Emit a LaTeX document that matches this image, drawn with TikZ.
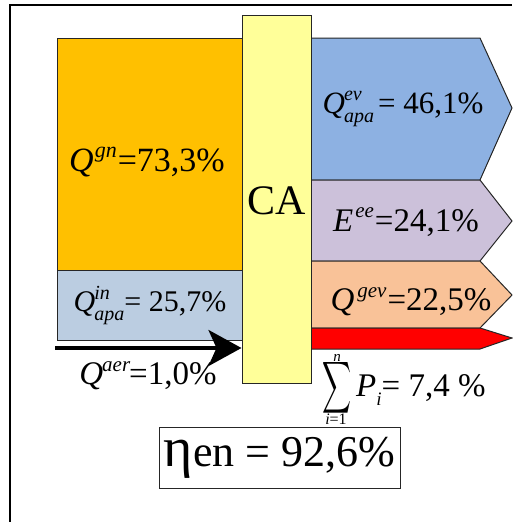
\documentclass[tikz,border=0pt]{standalone}
\usepackage{fontspec}
\IfFontExistsTF{LiberationSerif-Regular.ttf}
  {\newfontfamily\tnr{LiberationSerif}[Extension=.ttf,UprightFont=*-Regular,ItalicFont=*-Italic,BoldFont=*-Bold,BoldItalicFont=*-BoldItalic]}
  {\newcommand{\tnr}{\rmfamily}}
\usetikzlibrary{arrows.meta}
\definecolor{cOrange}{HTML}{FFC000}
\definecolor{cGrayBlue}{HTML}{BBCDE1}
\definecolor{cBlue}{HTML}{8DB1E2}
\definecolor{cPurple}{HTML}{CCC1DA}
\definecolor{cSalmon}{HTML}{F9C298}
\definecolor{cYellow}{HTML}{FFFF99}
\tikzset{
  blk/.style={draw=black!85, line width=1pt},
  lbl/.style={inner sep=0pt, anchor=center, font=\tnr},
}
\newcommand{\fs}[1]{\fontsize{#1}{#1}\selectfont}
% #1 script size, #2 superscript, #3 subscript
\newcommand{\SupSubX}[3]{{\sbox0{\fontsize{#1}{#1}\selectfont\itshape #2}%
  \sbox2{\fontsize{#1}{#1}\selectfont\itshape #3}%
  \ifdim\wd0>\wd2 \dimen0=\wd0 \else \dimen0=\wd2 \fi
  \makebox[\dimen0][l]{\rlap{\raisebox{.40em}{\usebox0}}\raisebox{-.30em}{\usebox2}}}}
\newcommand{\SupX}[2]{\raisebox{.40em}{\fontsize{#1}{#1}\selectfont\itshape #2}}
\begin{document}
\begin{tikzpicture}[x=1pt,y=-1pt]
\useasboundingbox (0,0) rectangle (512,522);
\fill[white] (0,0) rectangle (512,522);
% outer frame
\draw[line width=2pt] (10,522) -- (10,5) -- (512,5);
% left boxes
\draw[blk, fill=cOrange] (57,38) rectangle (242,270);
\draw[blk, fill=cGrayBlue] (57,270) rectangle (242,340);
% right arrows
\draw[blk, fill=cBlue] (311,38) -- (480,38) -- (512,108) -- (480,180) -- (311,180) -- cycle;
\draw[blk, fill=cPurple] (311,180) -- (480,180) -- (512,221) -- (480,261) -- (311,261) -- cycle;
\draw[blk, fill=cSalmon] (311,261) -- (480,261) -- (512,295) -- (480,328) -- (311,328) -- cycle;
\draw[blk, fill=red] (311,328) -- (480,328) -- (512,338) -- (480,349) -- (311,349) -- cycle;
% CA column
\node[blk, fill=cYellow, minimum width=69pt, minimum height=368pt, inner sep=0pt] (CA) at (276.5,199) {};
\node[lbl] (calbl) at (276.5,201) {\fs{42}CA};
% air arrow
\coordinate (airstart) at (55,348);
\draw[line width=3.5pt, -{Stealth[length=33pt, width=36pt, inset=8pt]}] (airstart) -- (CA.west |- airstart);
% labels
\node[lbl] (qgn) at (147,162) {\fs{34}\textit{Q}\kern1pt\SupX{22}{gn}\kern1pt=73,3\%};
\node[lbl] (qev) at (403,109) {\fs{31}\textit{Q}\kern-1pt\SupSubX{20}{ev}{apa}\kern4pt = 46,1\%};
\node[lbl] (eee) at (406,222) {\fs{33}\textit{E}\kern2pt\SupX{21}{ee}\kern1pt=24,1\%};
\node[lbl] (qgev) at (411,302) {\fs{33}\textit{Q}\kern3pt\SupX{21}{gev}\kern1pt=22,5\%};
\node[lbl] (qin) at (150,306) {\fs{30}\textit{Q}\kern-1pt\SupSubX{20}{in}{apa}= 25,7\%};
\node[lbl] (qaer) at (148,376) {\fs{33}\textit{Q}\kern-1pt\SupX{21}{aer}\kern-1pt=1,0\%};
\node[lbl, inner sep=0pt] (sig) at (337,388) {\resizebox{29pt}{38pt}{$\displaystyle\sum$}};
\node[lbl] (sup) at (337,358) {\fs{15}\textit{n}};
\node[lbl] (sub) at (336,419) {\fs{16}\textit{i}=1};
\node[lbl, anchor=base west] (pval) at (356,396) {\fs{33}\textit{P}\raisebox{-.3em}{\fs{19}\itshape i}= 7,4 \%};
% efficiency box
\node[draw=black!85, line width=1pt, minimum width=241pt, minimum height=61pt, inner sep=0pt, font=\tnr] (eta) at (279.5,457.5)
  {\fs{44}{\fontsize{56}{56}\selectfont η}en = 92,6\%};
\end{tikzpicture}
\end{document}
